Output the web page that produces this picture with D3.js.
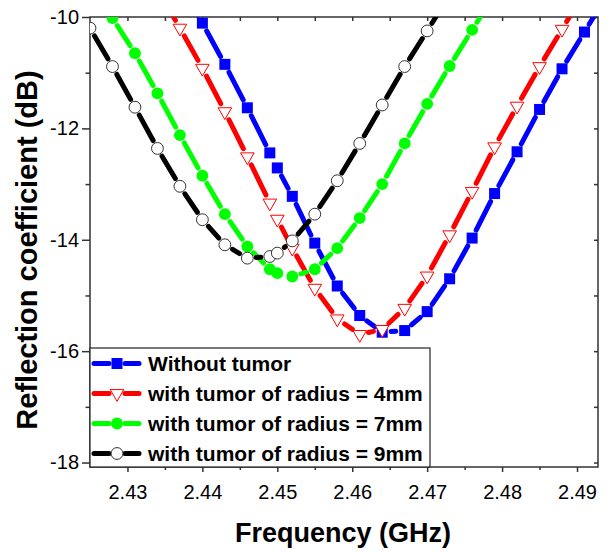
<!DOCTYPE html>
<html>
<head>
<meta charset="utf-8">
<script src="https://cdnjs.cloudflare.com/ajax/libs/d3/7.8.5/d3.min.js"></script>
<style>
    body { margin: 0; background: #fff; }
    text { font-family: "Liberation Sans", Arial, sans-serif; fill: #000; }
</style>
</head>
<body>
<svg id="vis"></svg>
<script>
// frequency grid (GHz), shared by all four curves
var freq = [2.425, 2.428, 2.431, 2.434, 2.437, 2.440, 2.443, 2.446, 2.449, 2.450,
            2.452, 2.455, 2.458, 2.461, 2.464, 2.467, 2.470, 2.473, 2.476, 2.479,
            2.482, 2.485, 2.488, 2.491, 2.494];

// reflection coefficient (dB), null where the curve has no point
var s11Without = [null, null, null, null, -9.4, -10.11, -10.85, -11.63, -12.44, -12.71,
                  -13.22, -14.06, -14.83, -15.36, -15.66, -15.63, -15.29, -14.70, -13.97, -13.17,
                  -12.42, -11.66, -10.93, -10.27, -9.6];
var s11R4 = [null, null, null, -9.5, -10.20, -10.92, -11.70, -12.51, -13.34, -13.63,
             -14.15, -14.87, -15.42, -15.70, -15.61, -15.23, -14.65, -13.91, -13.13, -12.33,
             -11.60, -10.89, -10.22, -9.55, null];
var s11R7 = [-9.35, -10.02, -10.65, -11.37, -12.12, -12.85, -13.54, -14.12, -14.53, -14.60,
             -14.66, -14.53, -14.15, -13.61, -13.00, -12.27, -11.56, -10.88, -10.23, -9.6,
             null, null, null, null, null];
var s11R9 = [-10.20, -10.89, -11.62, -12.36, -13.04, -13.64, -14.09, -14.33, -14.30, -14.24,
             -14.02, -13.54, -12.94, -12.27, -11.58, -10.89, -10.25, -9.6, null, null,
             null, null, null, null, null];

var seriesNames = ["Without tumor", "with tumor of radius = 4mm",
                   "with tumor of radius = 7mm", "with tumor of radius = 9mm"];

var xTicks = [2.43, 2.44, 2.45, 2.46, 2.47, 2.48, 2.49];
var xMinor = [2.435, 2.445, 2.455, 2.465, 2.475, 2.485];
var yTicks = [-10, -12, -14, -16, -18];
var yMinor = [-11, -13, -15, -17];

var series = [
    {name: seriesNames[0], values: s11Without, color: "#0000ff", symbol: "square"},
    {name: seriesNames[1], values: s11R4, color: "#ff0000", symbol: "triangle"},
    {name: seriesNames[2], values: s11R7, color: "#00ff00", symbol: "dot"},
    {name: seriesNames[3], values: s11R9, color: "#000000", symbol: "ring"}
];

var margin = {top: 17, right: 9, bottom: 85, left: 90},
    width = 607 - margin.left - margin.right,
    height = 552 - margin.top - margin.bottom;

var gap = 9;

var svg = d3.select("#vis")
    .attr("width", width + margin.left + margin.right)
    .attr("height", height + margin.top + margin.bottom)
    .append("g")
    .attr("transform", "translate(" + margin.left + "," + margin.top + ")");

var xScale = d3.scaleLinear().domain([2.425, 2.4928]).range([0, width]);
var yScale = d3.scaleLinear().domain([-18.08, -10]).range([height, 0]);

svg.append("clipPath")
    .attr("id", "plotclip")
    .append("rect")
    .attr("width", width)
    .attr("height", height);

function styleAxis(g) {
    g.select(".domain").remove();
    g.selectAll(".tick line").attr("stroke", "#333").attr("stroke-width", 1.5);
    g.selectAll("text").style("font-size", "20px");
}

// bottom: major (labelled) + minor, outward
svg.append("g")
    .attr("transform", "translate(0," + height + ")")
    .call(d3.axisBottom(xScale).tickValues(xTicks).tickSize(5).tickPadding(13)
        .tickFormat(d3.format(".2f")))
    .call(styleAxis);
svg.append("g")
    .attr("transform", "translate(0," + height + ")")
    .call(d3.axisBottom(xScale).tickValues(xMinor).tickSize(3).tickFormat(""))
    .call(styleAxis);

// left: major (labelled) + minor, outward
svg.append("g")
    .call(d3.axisLeft(yScale).tickValues(yTicks).tickSize(8).tickPadding(3)
        .tickFormat(function (d) { return String(d); }))
    .call(styleAxis);
svg.append("g")
    .call(d3.axisLeft(yScale).tickValues(yMinor).tickSize(4.5).tickFormat(""))
    .call(styleAxis);

// top and right: inward ticks, no labels
svg.append("g")
    .call(d3.axisTop(xScale).tickValues(xTicks.concat(xMinor)).tickSize(-4).tickFormat(""))
    .call(styleAxis);
svg.append("g")
    .attr("transform", "translate(" + width + ",0)")
    .call(d3.axisRight(yScale).tickValues(yTicks.concat(yMinor)).tickSize(-4).tickFormat(""))
    .call(styleAxis);

svg.append("rect")
    .attr("width", width)
    .attr("height", height)
    .attr("fill", "none")
    .attr("stroke", "#333")
    .attr("stroke-width", 1.5);

function markerPath(symbol) {
    if (symbol === "square") return d3.symbol(d3.symbolSquare, 121)();
    if (symbol === "triangle") return d3.symbol(d3.symbolTriangle, 80)();
    return d3.symbol(d3.symbolCircle, 110)();
}

function drawMarker(sel, s) {
    sel.append("path")
        .attr("d", markerPath(s.symbol))
        .attr("transform", function () {
            return s.symbol === "triangle" ? "rotate(180)" : null;
        })
        .attr("fill", function () {
            if (s.symbol === "triangle" || s.symbol === "ring") return "#fff";
            return s.color;
        })
        .attr("stroke", function () {
            if (s.symbol === "ring") return "#333";
            if (s.symbol === "triangle") return s.color;
            return "none";
        })
        .attr("stroke-width", 1);
}

// line segments between markers, shortened at both ends (gap to symbol)
function segments(pts) {
    var segs = [];
    for (var i = 0; i < pts.length - 1; i++) {
        var x1 = pts[i][0], y1 = pts[i][1], x2 = pts[i + 1][0], y2 = pts[i + 1][1];
        var dx = x2 - x1, dy = y2 - y1, len = Math.sqrt(dx * dx + dy * dy);
        if (len <= 2 * gap + 1) continue;
        var ux = dx / len, uy = dy / len;
        segs.push([x1 + ux * gap, y1 + uy * gap, x2 - ux * gap, y2 - uy * gap]);
    }
    return segs;
}

var plot = svg.append("g").attr("clip-path", "url(#plotclip)");

series.forEach(function (s) {
    var pts = [];
    freq.forEach(function (f, i) {
        if (s.values[i] !== null) pts.push([xScale(f), yScale(s.values[i])]);
    });
    var g = plot.append("g");
    g.selectAll(".seg")
        .data(segments(pts))
        .enter().append("line")
        .attr("class", "seg")
        .attr("x1", function (d) { return d[0]; })
        .attr("y1", function (d) { return d[1]; })
        .attr("x2", function (d) { return d[2]; })
        .attr("y2", function (d) { return d[3]; })
        .attr("stroke", s.color)
        .attr("stroke-width", 5)
        .attr("stroke-linecap", "round");
    g.selectAll(".mk")
        .data(pts)
        .enter().append("g")
        .attr("class", "mk")
        .attr("transform", function (d) { return "translate(" + d[0] + "," + d[1] + ")"; })
        .each(function () { drawMarker(d3.select(this), s); });
});

// legend
var legendBox = svg.append("g").attr("class", "legend");
legendBox.append("rect")
    .attr("x", 0)
    .attr("y", 331)
    .attr("width", 340)
    .attr("height", height - 331)
    .attr("fill", "#fff")
    .attr("stroke", "#222")
    .attr("stroke-width", 1.2);

var legend = legendBox.selectAll(".item")
    .data(series)
    .enter().append("g")
    .attr("class", "item")
    .attr("transform", function (d, i) {
        return "translate(0," + (346.5 + i * 30) + ")";
    });

legend.append("line")
    .attr("x1", 4).attr("x2", 19)
    .attr("stroke", function (d) { return d.color; })
    .attr("stroke-width", 5).attr("stroke-linecap", "round");
legend.append("line")
    .attr("x1", 35).attr("x2", 49)
    .attr("stroke", function (d) { return d.color; })
    .attr("stroke-width", 5).attr("stroke-linecap", "round");
legend.append("g")
    .attr("transform", "translate(27,0)")
    .each(function (d) { drawMarker(d3.select(this), d); });

legend.append("text")
    .attr("x", 58)
    .attr("dy", ".36em")
    .style("font-size", "21px")
    .style("font-weight", "bold")
    .text(function (d) { return d.name; });

// axis titles
svg.append("text")
    .attr("x", 343 - margin.left)
    .attr("y", 542 - margin.top)
    .style("text-anchor", "middle")
    .style("font-size", "27px")
    .style("font-weight", "bold")
    .text("Frequency (GHz)");

svg.append("text")
    .attr("transform", "translate(" + (37 - margin.left) + "," + (250 - margin.top) + ") rotate(-90)")
    .style("text-anchor", "middle")
    .style("font-size", "29px")
    .style("font-weight", "bold")
    .text("Reflection coefficient (dB)");
</script>
</body>
</html>
